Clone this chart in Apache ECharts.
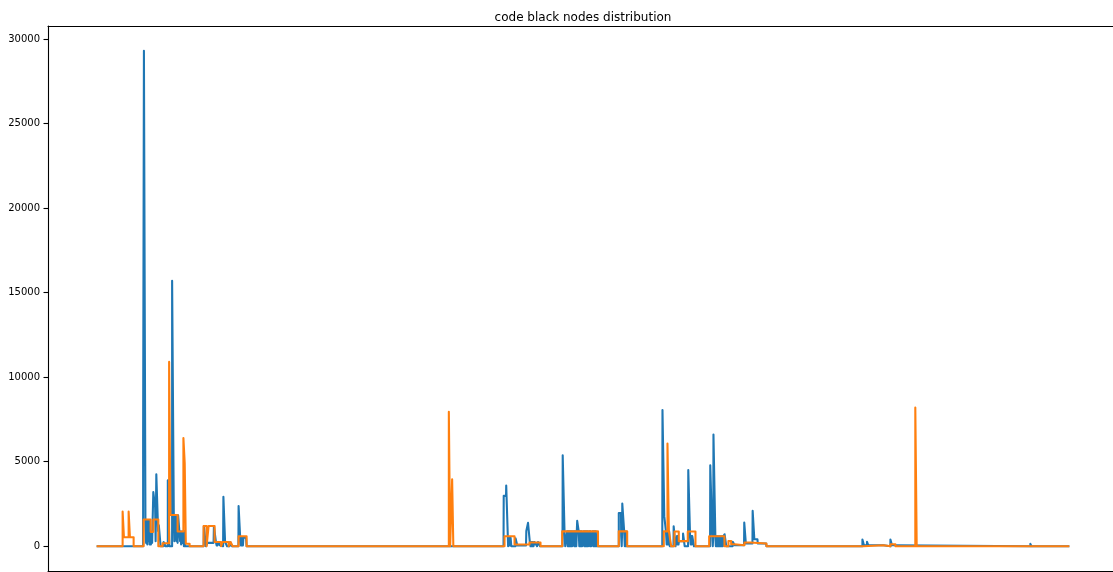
<!DOCTYPE html>
<html>
<head>
<meta charset="utf-8">
<script src="https://cdn.jsdelivr.net/npm/echarts@6/dist/echarts.min.js"></script>
<style>
html,body{margin:0;padding:0;background:#fff;}
#chart{width:1113px;height:572px;}
</style>
</head>
<body>
<div id="chart"></div>
<script>
// chart text
const chartTitle = 'code black nodes distribution';
const yTickValues = [0, 5000, 10000, 15000, 20000, 25000, 30000];

// x positions are sample positions along the series (0 .. 973)
const xDataMin = 0;
const xDataMax = 973;
const yDataMax = 29300;

// series 1 (blue): [position, value]
const blueSeries = [
  [0,0],[46.5,0],[46.5,6200],[47.3,6200],[47.3,29300],[48.8,29300],[48.8,1500],[49.5,200],[50,1500],[50.7,100],[51.2,1500],[51.9,300],[52.4,1500],[53.1,100],[53.6,900],[54.3,100],[54.8,800],[55.5,200],[56,1500],[56.7,3200],[58.2,3200],[58.5,2300],[59,300],[59.7,4260],[61.2,4260],[61.5,900],[62.2,1240],[63.6,1240],[64,0],
  [67,0],[67,250],[69,250],[69,0],[71.2,0],[71.2,3900],[72.5,3900],[72.8,0],
  [75.5,0],[75.5,15700],[77,15700],[77.2,1830],[77.8,300],[78.3,1830],[79.5,1830],[80,300],[80.5,1830],[81,200],[81.5,1830],[83,1830],[83.5,300],[84,870],[84.5,100],[85,870],[85.5,200],[86,870],[87,870],[87.3,0],[88,900],[88.5,0],
  [96,0],[96,100],[97,0],
  [107,0],[107.3,1200],[109,1200],[109.3,0],[110,0],[111,200],[117,200],[117.3,1200],[119,1200],[119.3,250],[120,50],[120.5,250],[121,50],[121.5,250],[123,250],[123.5,50],[124,0],
  [126.5,0],[126.8,2920],[128.2,2920],[128.5,250],[130,250],[130.5,0],[133,0],[133.5,250],[135,250],[135.5,0],
  [141.8,0],[142,2380],[143.3,2380],[143.6,500],[144.3,50],[144.8,500],[145.3,50],[145.8,500],[146.3,50],[146.8,500],[149.5,500],[150,0],
  [194,0],[194,50],[195,0],
  [389,0],[389,50],[390,0],
  [407,0],[407.2,2980],[409.5,2980],[409.7,3590],[411.3,3590],[411.6,0],[412.1,500],[412.6,50],[413.1,500],[413.6,50],[414.1,500],[414.8,0],
  [419,0],[419,470],[420.5,470],[420.8,50],[429.5,50],[429.8,900],[431.3,900],[431.5,1380],[433,1380],[433.3,250],[434,0],[434.5,250],[435,0],[435.5,250],[436,0],[436.5,250],[437,0],[438,250],[440,250],[440.5,0],[441.5,250],[443,250],[443.5,0],
  [466,0],[466.2,5380],[467.8,5380],[468,880],[468.7,0],[470.7,0],[470.7,880],[471.2,0],[471.7,880],[472.2,0],[472.7,880],[473.2,0],[473.7,880],[474.2,0],[474.7,880],[475.2,0],[475.7,880],[475.7,0],
  [477.3,0],[477.3,880],[477.8,0],[478.3,880],[478.8,0],[479.3,880],[479.8,0],[480.3,880],[480.7,880],[480.7,1500],[482,1500],[482.2,880],[482.8,0],[483.3,880],[483.8,0],[484.3,880],[484.8,0],[485.3,880],[485.7,880],[485.7,0],
  [487.3,0],[487.3,880],[487.8,0],[488.3,880],[488.8,0],[489.3,880],[489.8,0],[490.3,880],[490.8,0],[491.3,880],[491.7,880],[491.7,0],
  [493,0],[493,880],[493.5,0],[494,880],[494.7,880],[494.7,0],
  [496.3,0],[496.3,880],[496.8,0],[497.3,880],[497.8,0],[498.3,880],[498.8,0],[499.3,880],[500,880],[500,0],
  [519.7,0],[519.7,100],[520.3,0],[522.3,0],[522.3,1970],[524.5,1970],[524.7,600],[525.2,0],[525.6,800],[525.8,2520],[527.5,2520],[527.7,870],[528.3,0],[528.8,870],[529.3,0],[529.8,870],[530.3,0],
  [565.8,0],[566,8050],[567.6,8050],[567.8,1780],[569.3,1780],[569.5,870],[570.2,100],[570.7,870],[571.2,100],[571.7,870],[572.2,100],[572.7,870],[573,870],[573.3,0],
  [577,0],[577.2,1180],[578.8,1180],[579,0],[580,0],[580.5,600],[581,100],[581.5,600],[582,100],[582.5,300],[586.5,300],[586.6,750],[588,750],[588.2,0],
  [591.6,0],[591.8,4500],[593.3,4500],[593.6,600],[594.3,100],[594.8,600],[595.3,100],[595.8,600],[597,600],[597.5,0],
  [613.6,0],[613.8,4790],[615.5,4790],[615.8,590],[616.3,0],[616.8,590],[617,6600],[618.6,6600],[618.9,590],[619.4,0],[619.9,590],[620.4,0],[620.9,590],[621.4,0],[621.9,590],[622.4,0],[622.9,590],[623.4,0],[623.9,590],[624.4,0],[624.9,590],[625.4,0],[625.9,590],[626.4,0],[626.9,590],[628,590],[628.1,710],[629.6,710],[629.8,0],
  [636.2,0],[636.3,260],[638,260],[638.3,60],[647.6,60],[647.8,1400],[649.2,1400],[649.4,160],[656,160],[656.2,2090],[657.7,2090],[657.9,410],[661,410],[661.3,160],[669.7,160],[670,0],
  [766,0],[766,400],[767.2,400],[767.5,60],[770.5,60],[770.6,260],[771.6,260],[771.8,60],[776.5,60],[777,100],[778,60],[780.5,60],[781,100],[782,60],[787,60],[787,0],
  [794,0],[794,400],[795.3,400],[795.6,60],[799,60],[799,0],
  [934,0],[934,140],[935,140],[935,0],[973,0]
];

// series 2 (orange): [position, value]
const orangeSeries = [
  [0,0],[26,0],[26,2050],[27.3,2050],[27.3,530],[32,530],[32,2050],[33.3,2050],[33.3,530],[37,530],[37,0],
  [47,0],[47,1580],[54,1580],[54,850],[56.7,850],[56.7,1580],[61.7,1580],[61.7,0],[66,0],[66,180],[72.5,180],[72.5,10900],[73.8,10900],[73.8,1850],[81,1850],[81,870],[86.8,870],[86.8,6400],[88.1,6400],[88.1,4900],[88.8,4900],[89.2,150],[93,150],[93,0],
  [107,0],[107,1200],[110,1200],[110,0],[112,0],[112,1200],[118,1200],[118,250],[124.5,250],[124.5,0],[126,0],[126,250],[132,250],[132,0],[134,0],[134,250],[136,250],[136,0],[142,0],[142,590],[150,590],[150,0],
  [194,0],[194,60],[195,0],
  [352.3,0],[352.3,7950],[353.6,7950],[353.6,0],[355.6,0],[355.6,3960],[356.8,3960],[356.8,0],
  [389,0],[389,50],[390,0],
  [408,0],[408,590],[418,590],[418,100],[433,100],[433,220],[444,220],[444,0],
  [465.7,0],[465.7,880],[501.5,880],[501.5,0],
  [522.3,0],[522.3,880],[530.7,880],[530.7,0],
  [563,0],[563,100],[565,100],[565,0],[567.3,0],[567.3,880],[571,880],[571,6080],[572.4,6080],[572.4,880],[574,880],[574.7,0],
  [578,0],[578,870],[582.3,870],[582.3,300],[591.3,300],[591.3,870],[599,870],[599,0],
  [612.7,0],[612.7,590],[628,590],[628,0],[632,0],[632,310],[634.7,310],[634.7,120],[638,120],[638,60],[648,60],[648,220],[654,220],[654,160],[670,160],[670,0],
  [767,0],[767,60],[787,60],[787,0],[794,0],[794,120],[799,120],[799,0],
  [818.9,0],[818.9,8200],[820.3,8200],[820.3,0],
  [973,0]
];

const margin = 0.05;
const plotLeft = 48, plotTop = 26, plotHeight = 545;
const fullPlotWidth = 1070;           // full axes width; its right edge lies beyond the page
const pageWidth = 1113;
const visibleWidth = pageWidth - plotLeft;

const xPad = (xDataMax - xDataMin) * margin;
const xMin = xDataMin - xPad;
const xFullMax = xDataMax + xPad;
const xVisibleMax = xMin + (xFullMax - xMin) * visibleWidth / fullPlotWidth;
const yPad = yDataMax * margin;
const font = 'DejaVu Sans';
const lineW = 2.08;   // 1.5pt at 100 dpi
const spineW = 1.1;   // 0.8pt

const chart = echarts.init(document.getElementById('chart'), null, {renderer: 'canvas'});

chart.setOption({
  animation: false,
  backgroundColor: '#ffffff',
  title: {
    text: chartTitle,
    left: 578, top: 7, textAlign: 'center',
    textStyle: {fontFamily: font, fontSize: 12, fontWeight: 'normal', color: '#000'}
  },
  grid: {left: plotLeft, top: plotTop, right: 0, height: plotHeight, show: false},
  xAxis: [
    {
      type: 'value', position: 'bottom',
      min: xMin, max: xVisibleMax,
      axisLine: {show: true, onZero: false, lineStyle: {color: '#000', width: spineW}},
      axisTick: {show: false}, axisLabel: {show: false}, splitLine: {show: false}
    },
    {
      type: 'value', position: 'top',
      min: xMin, max: xVisibleMax,
      axisLine: {show: true, onZero: false, lineStyle: {color: '#000', width: spineW}},
      axisTick: {show: false}, axisLabel: {show: false}, splitLine: {show: false}
    }
  ],
  yAxis: {
    type: 'value',
    min: -yPad, max: yDataMax + yPad,
    axisLine: {show: true, onZero: false, lineStyle: {color: '#000', width: spineW}},
    splitLine: {show: false},
    axisTick: {show: true, length: 4.5, inside: false, customValues: yTickValues, lineStyle: {color: '#000', width: spineW}},
    axisLabel: {show: true, margin: 8, customValues: yTickValues, fontFamily: font, fontSize: 10, color: '#000',
      formatter: function (v) { return String(v); }}
  },
  series: [
    {type: 'line', xAxisIndex: 0, data: blueSeries, showSymbol: false, symbol: 'none', lineStyle: {color: '#1f77b4', width: lineW, join: 'round'}, itemStyle: {color: '#1f77b4'}, z: 2},
    {type: 'line', xAxisIndex: 0, data: orangeSeries, showSymbol: false, symbol: 'none', lineStyle: {color: '#ff7f0e', width: lineW, join: 'round'}, itemStyle: {color: '#ff7f0e'}, z: 3}
  ]
});
</script>
</body>
</html>
